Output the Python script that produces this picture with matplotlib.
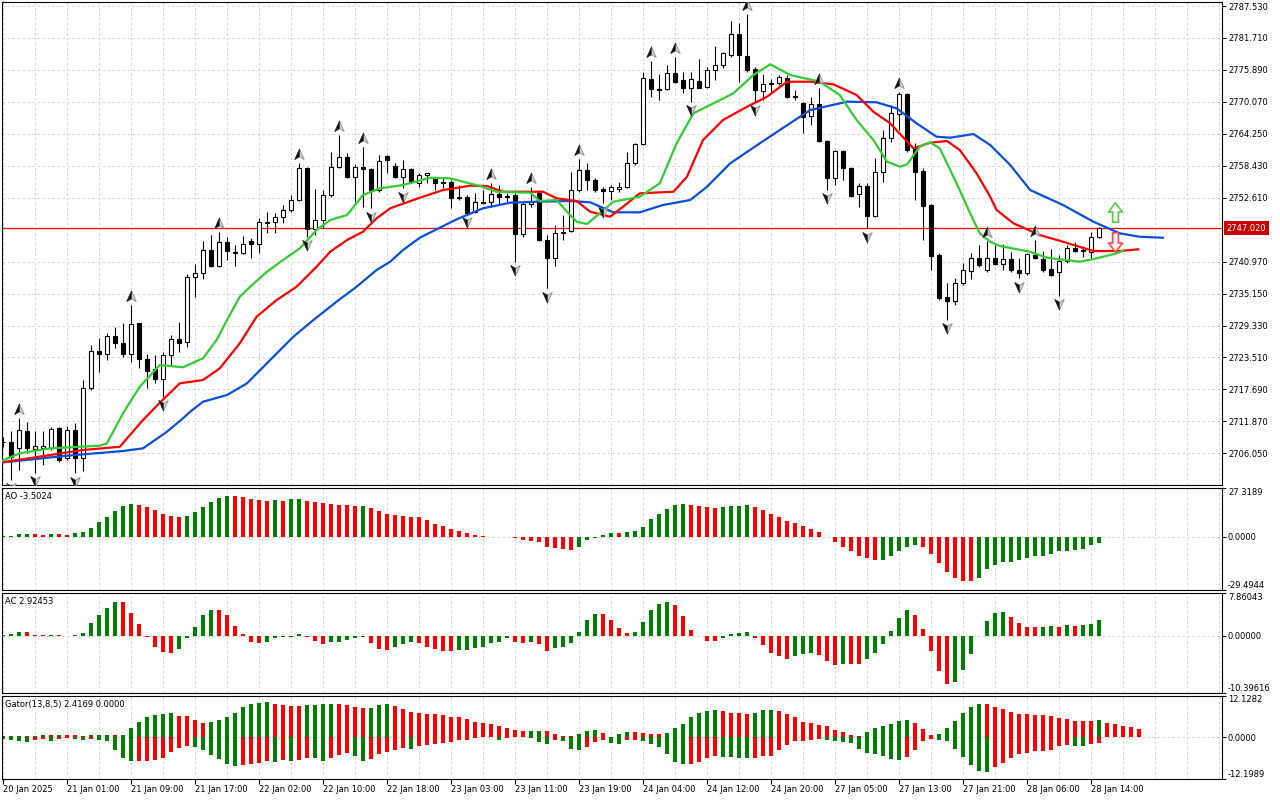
import numpy as np
import matplotlib
matplotlib.use('Agg')
import matplotlib.pyplot as plt
from matplotlib.path import Path
from matplotlib.transforms import offset_copy

plt.rcParams['font.family'] = ['DejaVu Sans']
plt.rcParams['font.size'] = 6

''' H1 candles read off the chart (index 0 = first visible bar) '''

opens = [2708.2, 2708.06, 2706.96, 2710.11, 2706.78, 2707.07, 2707.07, 2710.71, 2705.25, 2710.30,
         2705.25, 2717.89, 2724.69, 2724.19, 2727.42, 2726.09, 2724.19, 2729.73, 2723.28, 2721.35,
         2719.64, 2723.90, 2726.82, 2726.27, 2738.11, 2738.84, 2743.08, 2740.22, 2744.49, 2742.66,
         2742.48, 2744.72, 2744.12, 2748.13, 2748.13, 2749.04, 2750.37, 2752.19, 2757.96, 2746.85,
         2748.55, 2753.05, 2758.26, 2759.97, 2756.32, 2758.15, 2757.78, 2754.01, 2760.26, 2758.44,
         2756.43, 2757.84, 2755.23, 2756.74, 2756.25, 2755.41, 2755.41, 2752.74, 2752.68, 2750.06,
         2751.88, 2751.88, 2753.28, 2752.92, 2753.10, 2745.94, 2751.46, 2753.41, 2744.90, 2741.57,
         2746.40, 2746.54, 2754.01, 2757.65, 2755.83, 2754.19, 2753.83, 2754.14, 2754.61, 2758.87,
         2762.39, 2774.23, 2772.41, 2772.35, 2775.38, 2774.05, 2772.65, 2773.87, 2772.72, 2775.87,
         2776.78, 2778.60, 2782.43, 2778.42, 2776.00, 2772.04, 2773.50, 2773.45, 2774.41, 2771.06,
         2769.80, 2767.49, 2769.62, 2762.94, 2756.14, 2761.12, 2757.96, 2753.23, 2754.74, 2749.33,
         2757.24, 2763.43, 2767.80, 2771.50, 2761.90, 2757.47, 2751.28, 2742.17, 2734.58, 2733.79,
         2737.02, 2739.31, 2741.57, 2739.44, 2741.68, 2740.53, 2741.39, 2739.44, 2738.84, 2742.17,
         2741.44, 2739.57, 2739.02, 2741.08, 2743.39, 2743.01, 2742.77, 2745.50]
highs = [2709.0, 2710.17, 2712.43, 2711.81, 2710.17, 2710.11, 2710.90, 2710.90, 2711.02, 2711.52,
         2719.40, 2725.78, 2727.00, 2727.91, 2729.11, 2729.73, 2733.06, 2729.85, 2724.14, 2723.96,
         2724.45, 2727.60, 2730.02, 2738.66, 2740.53, 2744.78, 2745.81, 2746.30, 2745.50, 2743.99,
         2745.69, 2745.21, 2748.97, 2750.06, 2749.77, 2751.28, 2753.10, 2758.87, 2758.26, 2754.19,
         2754.01, 2760.99, 2764.03, 2760.70, 2758.69, 2761.79, 2757.96, 2760.39, 2760.39, 2758.87,
         2759.48, 2757.96, 2757.05, 2757.20, 2756.43, 2756.43, 2755.83, 2754.92, 2753.10, 2753.52,
         2754.01, 2755.23, 2754.92, 2753.41, 2753.41, 2751.88, 2754.60, 2754.00, 2745.81, 2747.64,
         2749.46, 2757.35, 2759.60, 2759.00, 2756.14, 2754.61, 2754.92, 2755.52, 2760.99, 2762.63,
         2775.56, 2777.51, 2775.14, 2776.78, 2778.29, 2775.56, 2775.56, 2777.82, 2776.47, 2780.24,
         2779.20, 2784.79, 2784.38, 2786.07, 2776.47, 2775.14, 2774.23, 2774.96, 2774.96, 2772.23,
         2770.10, 2771.01, 2772.54, 2763.12, 2761.30, 2761.30, 2758.26, 2755.23, 2755.23, 2759.79,
         2764.94, 2769.49, 2771.92, 2771.73, 2762.63, 2757.96, 2751.46, 2742.48, 2737.02, 2737.93,
         2740.77, 2742.59, 2743.99, 2744.80, 2743.99, 2744.20, 2742.77, 2741.57, 2742.59, 2744.90,
         2742.90, 2743.21, 2742.17, 2743.99, 2744.59, 2743.81, 2746.42, 2747.22]
lows = [2707.2, 2701.19, 2703.0, 2706.05, 2702.5, 2703.92, 2706.65, 2704.47, 2704.83, 2702.41,
        2702.9, 2717.58, 2720.92, 2723.05, 2725.18, 2723.65, 2722.74, 2721.53, 2717.89, 2718.80,
        2716.36, 2722.14, 2724.56, 2725.47, 2734.58, 2737.75, 2740.04, 2739.93, 2741.26, 2740.17,
        2742.35, 2741.57, 2742.48, 2746.12, 2746.12, 2747.95, 2750.00, 2752.00, 2745.50, 2745.81,
        2747.04, 2752.79, 2758.07, 2756.14, 2751.77, 2750.97, 2750.68, 2753.65, 2757.11, 2756.14,
        2754.30, 2755.29, 2754.61, 2755.23, 2754.01, 2754.32, 2750.68, 2752.19, 2749.77, 2749.91,
        2751.46, 2750.97, 2751.28, 2751.88, 2740.95, 2745.50, 2750.97, 2744.70, 2736.11, 2740.17,
        2744.90, 2746.36, 2753.70, 2754.01, 2753.70, 2751.59, 2752.19, 2753.70, 2754.32, 2758.57,
        2762.21, 2771.01, 2770.40, 2772.23, 2773.45, 2771.62, 2770.10, 2772.54, 2772.54, 2774.05,
        2776.18, 2778.18, 2773.74, 2775.56, 2770.10, 2770.40, 2771.62, 2773.14, 2770.71, 2770.40,
        2764.34, 2765.85, 2762.81, 2754.01, 2754.92, 2755.83, 2752.79, 2750.86, 2747.04, 2749.15,
        2755.52, 2762.81, 2764.94, 2760.99, 2752.19, 2744.90, 2739.44, 2733.97, 2730.33, 2733.06,
        2736.71, 2737.75, 2740.04, 2739.13, 2740.35, 2739.44, 2739.13, 2737.93, 2738.53, 2741.44,
        2739.13, 2738.35, 2734.70, 2740.66, 2742.77, 2741.86, 2741.57, 2745.21]
closes = [2708.1, 2705.43, 2710.30, 2706.96, 2707.38, 2707.44, 2710.48, 2704.83, 2710.30, 2705.25,
          2717.89, 2724.69, 2724.19, 2727.42, 2726.09, 2724.19, 2729.60, 2723.28, 2721.10, 2719.59,
          2723.90, 2726.82, 2726.20, 2738.22, 2738.84, 2743.08, 2740.22, 2744.49, 2742.90, 2742.48,
          2744.12, 2744.12, 2748.13, 2747.95, 2749.04, 2750.37, 2752.19, 2757.96, 2746.85, 2748.55,
          2753.16, 2758.26, 2759.97, 2756.32, 2758.26, 2757.78, 2754.01, 2759.35, 2759.48, 2756.43,
          2757.84, 2755.52, 2756.74, 2757.05, 2755.34, 2755.23, 2752.61, 2752.63, 2749.88, 2751.77,
          2751.70, 2753.28, 2752.79, 2752.68, 2745.94, 2751.46, 2751.88, 2744.90, 2741.57, 2746.12,
          2746.25, 2754.01, 2757.65, 2755.83, 2754.01, 2753.83, 2754.50, 2754.50, 2758.87, 2762.39,
          2774.36, 2772.35, 2772.30, 2775.27, 2773.74, 2772.54, 2774.18, 2772.65, 2775.87, 2776.78,
          2778.91, 2782.37, 2778.60, 2775.87, 2772.23, 2773.32, 2773.39, 2774.65, 2771.01, 2770.95,
          2767.36, 2769.62, 2762.99, 2756.14, 2761.12, 2757.96, 2752.92, 2754.74, 2749.33, 2757.24,
          2763.43, 2767.98, 2771.44, 2761.30, 2757.35, 2751.15, 2742.04, 2734.28, 2733.79, 2737.13,
          2739.44, 2741.57, 2740.35, 2741.68, 2740.53, 2741.39, 2739.44, 2738.95, 2742.30, 2741.57,
          2739.44, 2738.53, 2741.08, 2743.39, 2742.96, 2742.90, 2745.40, 2747.02]

# Alligator lines (bar index, price)
jaw_idx = [-0.4, 8, 15, 17.5, 20.5, 22.5, 23.4, 25.0, 28.0, 30.5, 33.4, 36.3, 38.8, 41.7, 44.2,
           46.7, 48.4, 50, 52.1, 54.2, 56.7, 60, 63.4, 66.7, 70.9, 73.4, 76.3, 79.6, 82.5, 85.9,
           88, 90.9, 94.6, 97.1, 100.9, 105.5, 109.2, 111.7, 114.2, 116.7, 118.4, 121.3, 123.4,
           125.9, 128.4, 132.5, 136.3, 139.6, 142.1, 145]
jaw_val = [2704.34, 2705.62, 2706.47, 2706.96, 2709.99, 2712.43, 2713.63, 2715.45, 2716.67,
           2718.80, 2723.05, 2727.29, 2730.33, 2733.67, 2736.40, 2739.44, 2740.95, 2743.08,
           2745.32, 2746.85, 2748.67, 2750.68, 2751.70, 2751.88, 2752.01, 2751.77, 2749.95,
           2749.95, 2751.28, 2752.19, 2754.61, 2758.87, 2762.52, 2764.94, 2768.58, 2770.10,
           2769.99, 2768.89, 2766.16, 2763.72, 2763.54, 2764.21, 2762.21, 2758.57, 2754.01,
           2751.28, 2748.24, 2746.12, 2745.50, 2745.32]
teeth_idx = [-0.4, 5.9, 10, 14.6, 17.5, 19.6, 22.1, 25.0, 27.1, 29.6, 31.7, 34.2, 36.7, 39.2,
             40.9, 43.0, 45.0, 46.7, 48.4, 52.1, 55, 58.4, 60.5, 62.5, 67.5, 69.2, 71.7, 73.4,
             75.9, 77.5, 79.6, 83.8, 85.5, 87.5, 90, 93, 95.5, 98, 100.9, 103.8, 106.7, 108.8,
             110.9, 113.8, 115.9, 118, 119.6, 121.7, 123.4, 124.2, 126.3, 129.6, 132.5, 136.3,
             139.6, 141.9]
teeth_val = [2704.34, 2705.74, 2706.65, 2707.25, 2712.12, 2715.27, 2718.80, 2719.40, 2721.53,
             2726.09, 2730.93, 2733.97, 2736.40, 2740.04, 2742.77, 2744.90, 2746.42, 2748.86,
             2750.68, 2752.61, 2754.01, 2754.80, 2754.74, 2753.70, 2753.70, 2752.50, 2752.01,
             2750.06, 2749.15, 2750.97, 2753.41, 2753.70, 2756.43, 2763.12, 2766.76, 2769.18,
             2771.01, 2773.74, 2773.74, 2773.26, 2771.32, 2768.27, 2766.16, 2761.61, 2762.63,
             2762.94, 2761.30, 2757.05, 2752.79, 2750.37, 2747.95, 2745.81, 2744.59, 2742.90,
             2742.90, 2743.21]
lips_idx = [-0.4, 2.1, 5.9, 12.1, 13, 15, 17.1, 19.6, 22.5, 25.0, 26.7, 28.0, 29.6, 30.9, 33.0,
            35.0, 37.1, 39.2, 40.9, 43.0, 45.0, 47.1, 50, 53.4, 55.9, 59.6, 61.7, 65.9, 67.1,
            69.2, 70.5, 71.7, 73, 74.6, 76.3, 79.6, 82.1, 84.2, 86.3, 88.8, 91.3, 93.8, 95.9,
            98.4, 102.1, 104.6, 106.7, 108.8, 110.5, 112.1, 113, 114.6, 115.9, 117.1, 119.2,
            120.9, 122.1, 123.4, 124.6, 128.4, 130.5, 134.6, 136.7, 139.2, 140]
lips_val = [2704.52, 2706.05, 2706.96, 2707.44, 2707.88, 2713.34, 2718.18, 2722.14, 2721.72,
            2723.36, 2726.69, 2730.33, 2734.58, 2736.40, 2739.13, 2741.26, 2743.39, 2746.73,
            2748.55, 2749.46, 2753.10, 2754.32, 2754.92, 2756.25, 2756.14, 2754.74, 2753.70,
            2753.52, 2752.01, 2752.19, 2750.06, 2748.24, 2747.82, 2749.77, 2751.88, 2752.79,
            2755.23, 2762.52, 2767.98, 2769.80, 2771.63, 2774.96, 2776.91, 2774.96, 2773.74,
            2771.32, 2766.76, 2763.12, 2759.17, 2758.26, 2758.69, 2761.90, 2762.70, 2761.61,
            2755.23, 2749.77, 2746.12, 2744.59, 2743.81, 2742.77, 2741.68, 2740.95, 2741.57,
            2742.48, 2742.95]

# Bill Williams fractals (bar indices)
frac_up_idx = [2, 16, 27, 37, 42, 45, 61, 66, 72, 81, 84, 93, 102, 112, 123, 129]
frac_dn_idx = [1, 4, 9, 20, 38, 46, 50, 58, 64, 68, 75, 86, 94, 103, 108, 118, 127, 132]

# signal arrows after the last bar
sig_up = (139, 2750.0)
sig_dn = (139, 2744.6)
last_price = 2747.02

ao_vals = [0.3, 0.4, 1.45, 1.55, 1.45, 0.95, 1.4, 1.3, 1.2, 2.2,
           2.8, 5.0, 8.0, 11.1, 14.4, 17.2, 18.3, 17.8, 16.7, 15.0,
           12.8, 11.5, 11.1, 11.7, 13.9, 16.7, 19.4, 21.5, 22.8, 22.7,
           22.0, 20.9, 20.2, 20.0, 20.6, 20.0, 20.7, 20.9, 20.0, 19.4,
           18.5, 18.1, 17.8, 17.6, 17.2, 17.3, 15.9, 14.1, 12.8, 12.0,
           11.5, 11.1, 10.7, 9.1, 7.2, 6.1, 4.3, 3.3, 2.2, 0.9,
           0.4, 0.05, 0.1, 0.15, -0.9, -1.7, -2.2, -3.1, -5.6, -6.1,
           -6.7, -7.2, -5.6, -1.9, -0.4, 1.1, 2.2, 2.1, 2.4, 3.0,
           5.7, 9.6, 12.8, 15.6, 17.8, 18.3, 17.8, 17.2, 16.7, 16.1,
           16.7, 17.0, 17.1, 17.8, 16.7, 15.0, 12.8, 11.1, 8.9, 7.8,
           6.1, 4.4, 2.8, -0.1, -3.1, -5.4, -8.1, -10.9, -12.0, -13.1,
           -13.0, -10.9, -8.1, -5.4, -4.3, -5.4, -9.3, -14.3, -19.3, -22.6,
           -24.3, -24.4, -22.6, -17.6, -15.4, -14.1, -14.0, -13.1, -12.0, -10.9,
           -10.4, -9.3, -8.1, -8.0, -7.6, -6.5, -4.8, -3.5024]
ac_vals = [0.2, 0.36, 0.66, 0.64, 0.12, 0.05, 0.1, 0.05, -0.05, 0.12,
           0.54, 2.34, 3.84, 5.05, 6.13, 6.1, 4.14, 2.22, -0.3, -2.1,
           -3.0, -3.18, -2.46, -0.48, 1.62, 3.84, 4.68, 4.65, 3.84, 1.8,
           0.24, -1.08, -1.38, -1.08, -0.48, -0.3, -0.18, 0.36, -0.3, -0.9,
           -1.56, -1.2, -1.08, -0.78, -0.48, -0.3, -1.38, -2.46, -2.5, -2.1,
           -1.56, -1.2, -1.38, -2.1, -2.46, -2.82, -2.85, -2.64, -2.6, -2.28,
           -1.98, -1.38, -1.2, -0.48, -1.08, -1.38, -1.2, -1.56, -2.82, -2.28,
           -1.98, -1.26, 0.66, 2.82, 3.96, 3.9, 2.88, 1.44, 0.54, 0.66,
           2.52, 4.68, 5.83, 6.13, 5.59, 3.6, 1.08, -0.12, -0.9, -1.0,
           -0.48, 0.36, 0.54, 0.72, -0.48, -1.74, -3.18, -3.6, -4.14, -3.6,
           -3.36, -3.18, -3.42, -4.62, -5.4, -5.04, -5.16, -5.2, -4.26, -3.18,
           -1.56, 0.9, 3.24, 4.68, 3.78, 1.26, -2.7, -6.43, -8.77, -8.41,
           -6.25, -3.36, -0.12, 2.7, 4.14, 4.32, 3.42, 2.34, 1.62, 1.55,
           1.65, 1.8, 1.62, 1.98, 1.8, 1.98, 2.16, 2.92453]
gator_up = [0.19, 0.29, 0.39, 0.19, 0.39, 0.58, 0.48, 0.58, 0.53, 0.48,
            0.39, 0.58, 0.63, 0.68, 0.58, 0.68, 2.61, 4.54, 5.98, 6.56,
            6.85, 6.95, 6.18, 6.08, 5.02, 4.25, 4.54, 5.02, 5.98, 7.14,
            8.69, 9.56, 10.04, 10.14, 9.56, 9.36, 9.17, 9.07, 9.36, 9.46,
            9.56, 9.65, 9.56, 9.36, 8.88, 8.40, 8.59, 9.36, 9.65, 9.17,
            8.20, 7.43, 6.95, 6.85, 6.66, 6.47, 5.98, 5.79, 5.21, 4.54,
            4.25, 3.76, 3.28, 2.61, 2.12, 1.64, 1.83, 1.93, 1.64, 0.87,
            0.39, 0.19, 0.97, 1.93, 2.22, 1.06, 0.10, 0.97, 1.54, 1.35,
            1.06, 1.01, 0.97, 1.06, 2.61, 3.96, 5.98, 7.14, 7.72, 7.82,
            7.72, 7.14, 6.95, 6.85, 7.14, 7.92, 8.01, 7.72, 6.66, 5.79,
            4.54, 4.05, 3.57, 3.38, 2.12, 1.45, 0.68, 0.19, 1.35, 2.61,
            3.28, 3.96, 4.83, 4.92, 4.05, 2.32, 0.68, 0.97, 2.61, 4.83,
            7.14, 8.88, 9.75, 9.70, 8.88, 8.11, 7.43, 6.76, 6.66, 6.56,
            6.52, 6.18, 5.60, 5.21, 4.83, 4.73, 4.63, 5.02, 4.25, 3.86,
            3.28, 2.90, 2.4169]
gator_dn = [0.58, 0.77, 1.25, 1.54, 0.77, 0.48, 1.25, 0.48, 0.29, 0.48,
            0.77, 0.48, 0.77, 1.25, 3.86, 6.08, 7.05, 6.95, 6.85, 6.56,
            6.08, 4.34, 3.19, 2.70, 2.99, 3.86, 5.12, 6.37, 7.82, 8.30,
            8.20, 7.82, 7.53, 7.05, 7.14, 6.56, 7.05, 6.76, 6.08, 6.18,
            7.05, 6.08, 5.12, 4.63, 5.60, 7.05, 6.37, 4.92, 4.34, 3.86,
            3.19, 3.47, 2.70, 2.22, 2.03, 1.74, 1.54, 0.97, 0.77, 0.29,
            0.10, 0.05, 0.77, 0.29, 0.10, 0.05, 0.29, 1.54, 1.93, 0.77,
            1.25, 3.47, 3.86, 2.90, 1.45, 0.77, 1.74, 2.03, 0.97, 0.77,
            1.25, 2.03, 2.90, 5.02, 7.34, 7.82, 7.72, 7.34, 6.18, 5.60,
            5.69, 5.79, 5.98, 6.08, 5.98, 5.60, 5.41, 3.86, 2.41, 1.25,
            1.16, 0.97, 0.48, 0.77, 1.25, 1.54, 1.64, 3.47, 4.63, 4.92,
            5.41, 6.37, 6.76, 5.79, 3.86, 1.25, 0.48, 0.97, 1.25, 3.47,
            5.79, 8.20, 9.94, 10.23, 8.69, 7.53, 6.08, 5.02, 4.63, 4.15,
            4.05, 3.86, 2.70, 2.41, 2.51, 2.70, 2.03, 1.74]

price_ticks = [2787.530, 2781.710, 2775.890, 2770.070, 2764.250, 2758.430, 2752.610,
               2740.970, 2735.150, 2729.330, 2723.510, 2717.690, 2711.870, 2706.050]
ao_range = (-29.4944, 27.3189)
ac_range = (-10.39616, 7.86043)
gator_range = (-12.1989, 12.1282)
time_labels = ['20 Jan 2025', '21 Jan 01:00', '21 Jan 09:00', '21 Jan 17:00', '22 Jan 02:00',
               '22 Jan 10:00', '22 Jan 18:00', '23 Jan 03:00', '23 Jan 11:00', '23 Jan 19:00',
               '24 Jan 04:00', '24 Jan 12:00', '24 Jan 20:00', '27 Jan 05:00', '27 Jan 13:00',
               '27 Jan 21:00', '28 Jan 06:00', '28 Jan 14:00']
label_idx = [0, 8, 16, 24, 32, 40, 48, 56, 64, 72, 80, 88, 96, 104, 112, 120, 128, 136]

GREEN, RED, GRID = '#008000', '#ff0000', '#cfcfcf'


def up_down_colors(vals):
    # MT4 rule: green when the bar grows compared with the previous one
    return [GREEN if i == 0 or vals[i] > vals[i - 1] else RED for i in range(len(vals))]


fig = plt.figure(figsize=(12.8, 8), dpi=100)


def panel(top, bottom):
    return fig.add_axes([2 / 1280, 1 - bottom / 800, 1220 / 1280, (bottom - top) / 800])


ax = panel(2, 485)
ax_ao = panel(487.5, 590)
ax_ac = panel(592.5, 693)
ax_gt = panel(695.5, 779)

for a in (ax, ax_ao, ax_ac, ax_gt):
    a.set_xlim(-0.125, 152.375)
    a.set_xticks(label_idx)
    a.set_xticks(np.arange(0, 153, 4), minor=True)
    a.grid(True, axis='x', which='both', color=GRID, ls=(0, (3, 3)), lw=0.6)
    a.tick_params(axis='x', which='both', length=0, labelbottom=False)
    a.yaxis.tick_right()
    a.tick_params(axis='y', length=2.8, width=0.8, pad=1.5, labelsize=6, colors='black')
    for s in a.spines.values():
        s.set_linewidth(0.8)
        s.set_color('black')
    a.set_axisbelow(True)

''' main price panel '''
x = np.arange(len(opens))
o, h, l, c = map(np.array, (opens, highs, lows, closes))
bull = c > o
ax.vlines(x, l, h, color='black', lw=0.8, zorder=2)
ax.bar(x, np.maximum(np.abs(c - o), 0.06), bottom=np.minimum(o, c), width=0.55,
       color=np.where(bull, 'white', 'black'), edgecolor='black', linewidth=0.8, zorder=3)

ax.axhline(last_price, color='red', lw=0.9, zorder=1.5)
ax.plot(jaw_idx, jaw_val, color='#0a4fd8', lw=1.6, zorder=4)
ax.plot(teeth_idx, teeth_val, color='#ff0000', lw=1.6, zorder=4)
ax.plot(lips_idx, lips_val, color='#32cd32', lw=1.6, zorder=4)

# fractal arrows: grey arrowhead with a black left half
codes = [Path.MOVETO, Path.LINETO, Path.LINETO, Path.LINETO, Path.CLOSEPOLY]
up_mark = Path([(0, 1), (0.85, -0.9), (0, -0.4), (-0.85, -0.9), (0, 1)], codes)
dn_mark = Path([(0, -1), (0.85, 0.9), (0, 0.4), (-0.85, 0.9), (0, -1)], codes)
hcodes = [Path.MOVETO, Path.LINETO, Path.LINETO, Path.CLOSEPOLY]
up_half = Path([(0, 1), (0, -0.4), (-0.85, -0.9), (0, 1)], hcodes)
dn_half = Path([(0, -1), (0, 0.4), (-0.85, 0.9), (0, -1)], hcodes)
above = offset_copy(ax.transData, fig=fig, y=6.5, units='points')
below = offset_copy(ax.transData, fig=fig, y=-6.0, units='points')
for idx, vals, full, half, tr in ((frac_up_idx, h, up_mark, up_half, above),
                                  (frac_dn_idx, l, dn_mark, dn_half, below)):
    ax.plot(idx, vals[idx], ls='none', marker=full, ms=8, mfc='#d2d2d2', mec='#8a8a8a',
            mew=0.6, transform=tr, zorder=5)
    ax.plot(idx, vals[idx], ls='none', marker=half, ms=8, mfc='#111111', mec='#111111',
            mew=0.3, transform=tr, zorder=5.1)

acodes = [Path.MOVETO] + [Path.LINETO] * 6 + [Path.CLOSEPOLY]
up_arrow = Path([(-0.3, -1), (0.3, -1), (0.3, 0.05), (0.72, 0.05), (0, 1), (-0.72, 0.05),
                 (-0.3, 0.05), (-0.3, -1)], acodes)
dn_arrow = Path([(-0.3, 1), (0.3, 1), (0.3, -0.05), (0.72, -0.05), (0, -1), (-0.72, -0.05),
                 (-0.3, -0.05), (-0.3, 1)], acodes)
ax.plot([sig_up[0]], [sig_up[1]], marker=up_arrow, ms=14, mfc='#f4fff0', mec='#55cc44',
        mew=1.2, ls='none', zorder=6)
ax.plot([sig_dn[0]], [sig_dn[1]], marker=dn_arrow, ms=14, mfc='#fff2f2', mec='#ff4a4a',
        mew=1.2, ls='none', zorder=6)

ax.set_ylim(2700.28, 2788.26)
ax.set_yticks(price_ticks)
ax.set_yticklabels([f'{v:.3f}' for v in price_ticks])
ax.grid(True, axis='y', color=GRID, ls=(0, (3, 3)), lw=0.6)
ax.annotate(f'{last_price:.3f}', xy=(1, last_price), xycoords=('axes fraction', 'data'),
            xytext=(3.5, 0), textcoords='offset points', ha='left', va='center',
            color='white', fontsize=6, annotation_clip=False,
            bbox=dict(boxstyle='square,pad=0.3', fc='#c80000', ec='none'))

''' indicator panels '''


def ind_axis(a, rng, labels, title):
    a.set_ylim(*rng)
    a.set_yticks([rng[0], 0, rng[1]])
    a.set_yticklabels(labels)
    tl = a.get_yticklabels()
    tl[0].set_va('bottom')
    tl[2].set_va('top')
    a.axhline(0, color=GRID, ls=(0, (3, 3)), lw=0.6, zorder=0)
    a.annotate(title, xy=(0, 1), xycoords='axes fraction', xytext=(2.5, -3),
               textcoords='offset points', ha='left', va='top', fontsize=6)


ax_ao.bar(np.arange(len(ao_vals)), ao_vals, width=0.45, color=up_down_colors(ao_vals), zorder=2)
ind_axis(ax_ao, ao_range, ['-29.4944', '0.0000', '27.3189'], f'AO {ao_vals[-1]:.4f}')

ax_ac.bar(np.arange(len(ac_vals)), ac_vals, width=0.45, color=up_down_colors(ac_vals), zorder=2)
ind_axis(ax_ac, ac_range, ['-10.39616', '0.00000', '7.86043'], f'AC {ac_vals[-1]:.5f}')

ax_gt.bar(np.arange(len(gator_up)), gator_up, width=0.45, color=up_down_colors(gator_up), zorder=2)
ax_gt.bar(np.arange(len(gator_dn)), -np.array(gator_dn), width=0.45,
          color=up_down_colors(gator_dn), zorder=2)
ind_axis(ax_gt, gator_range, ['-12.1989', '0.0000', '12.1282'],
         f'Gator(13,8,5) {gator_up[-1]:.4f} 0.0000')

ax_gt.tick_params(axis='x', which='major', length=3.5, width=0.8, labelbottom=True, pad=0.5,
                  labelsize=6)
ax_gt.set_xticklabels(time_labels, ha='left')

fig.savefig('out.png', dpi=100, facecolor='white')
